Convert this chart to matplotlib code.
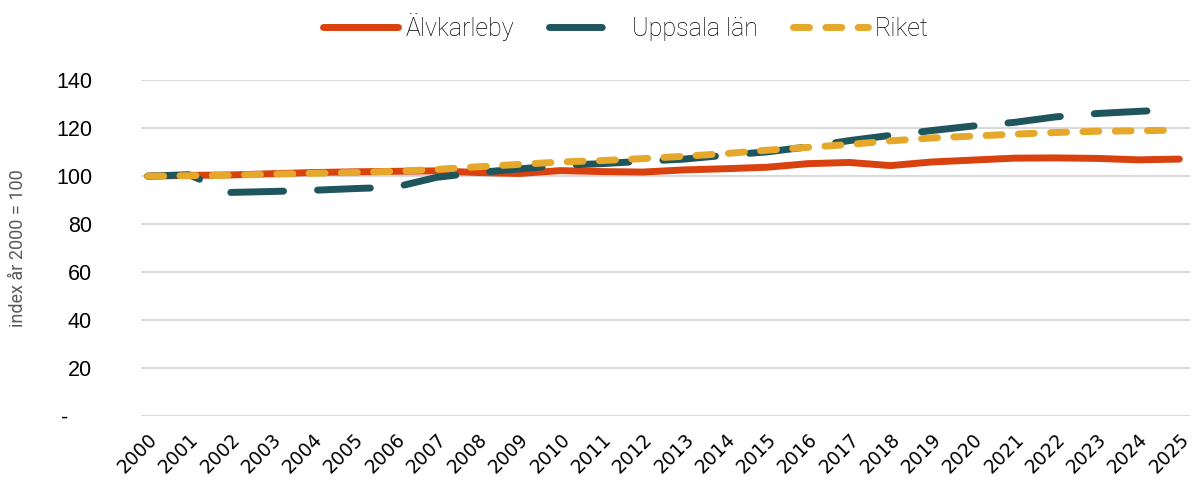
import numpy as np
import matplotlib
matplotlib.use('Agg')
import matplotlib.pyplot as plt

years = [str(y) for y in range(2000, 2026)]

alvkarleby = [100.0, 100.3, 100.5, 101.0, 101.5, 101.8, 102.0, 102.2, 101.5, 101.1,
              102.3, 101.9, 101.7, 102.6, 103.1, 103.7, 105.2, 105.7, 104.4, 105.9,
              106.7, 107.5, 107.6, 107.4, 106.8, 107.1]
uppsala = [100.0, 100.6, 93.2, 93.6, 94.1, 94.8, 95.4, 99.5, 101.5, 103.0,
           104.5, 105.2, 106.2, 107.1, 108.7, 110.1, 112.2, 114.8, 117.0, 119.0,
           120.9, 122.4, 124.7, 126.1, 127.0, 127.8]
riket = [100.0, 100.2, 100.4, 100.8, 101.2, 101.5, 102.0, 102.8, 103.9, 104.9,
         105.9, 106.5, 107.3, 108.3, 109.4, 110.8, 112.0, 113.2, 114.7, 115.9,
         116.7, 117.5, 118.2, 118.7, 118.9, 119.2]

RED = '#D9410F'
TEAL = '#1F565E'
GOLD = '#E6A82A'

fig = plt.figure(figsize=(11.92, 4.86), dpi=100)
ax = fig.add_axes([0.118, 0.144, 0.880, 0.691])

x = np.arange(len(years))
lw = 5.0
ax.plot(x, alvkarleby, color=RED, lw=lw, solid_capstyle='round', label='Älvkarleby', zorder=3)
l2, = ax.plot(x, uppsala, color=TEAL, lw=lw, dash_capstyle='round', label='Uppsala län', zorder=4)
l2.set_dashes([7.6, 4.9])
l3, = ax.plot(x, riket, color=GOLD, lw=lw, dash_capstyle='round', label='Riket', zorder=5)
l3.set_dashes([2.3, 2.35])

ax.set_xlim(-0.17, len(years) - 1 + 0.25)
ax.set_ylim(0, 140)
ax.set_yticks(np.arange(0, 141, 20))
ax.set_yticklabels(['-    '] + [str(v) for v in range(20, 141, 20)],
                   fontfamily='Liberation Sans', fontsize=15.5)
ax.set_xticks(x)
ax.set_xticklabels(years, rotation=45, ha='right', rotation_mode='anchor',
                   fontfamily='DejaVu Sans', fontsize=13.5)
ax.tick_params(axis='y', length=0, pad=35)
ax.tick_params(axis='x', length=0, pad=10)

ax.grid(axis='y', color='#D9D9D9', lw=1.5)
ax.set_axisbelow(True)
for s in ax.spines.values():
    s.set_visible(False)

ax.set_ylabel('index år 2000 = 100', fontfamily='Roboto', fontweight='normal',
              fontsize=13, color='#595959')
ax.yaxis.set_label_coords(-0.108, 0.5)

fig.legend(loc='center', bbox_to_anchor=(0.525, 0.944), ncol=3, frameon=False,
           prop={'family': 'Roboto', 'weight': 'light', 'size': 18},
           labelcolor='#000000',
           handlelength=3.0, handletextpad=0.3, columnspacing=1.4)

fig.savefig('out.png', dpi=100)
